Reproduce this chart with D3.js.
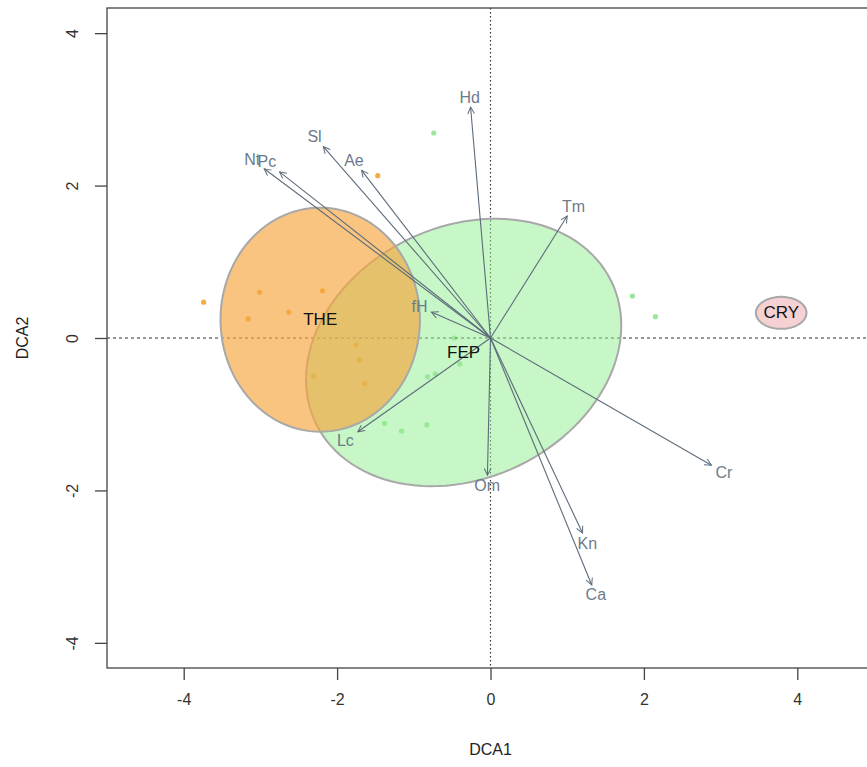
<!DOCTYPE html>
<html>
<head>
<meta charset="utf-8">
<script src="https://cdn.jsdelivr.net/npm/d3@7"></script>
<style>
  body { margin: 0; background: #fff; }
  text { font-family: "Liberation Sans", Arial, sans-serif; }
</style>
</head>
<body>
<div id="chart"></div>
<script>
// DCA ordination: sites, group ellipses and fitted vectors
var xTicks = [-4, -2, 0, 2, 4];
var yTicks = [-4, -2, 0, 2, 4];

var groupNames = ["CRY", "FEP", "THE"];
var ellCx = [3.79, -0.35, -2.22];
var ellCy = [0.33, -0.19, 0.24];
var ellA = [0.33, 2.14, 1.30];
var ellB = [0.21, 1.65, 1.47];
var ellAngle = [0, 26, 0];

var siteX = [-3.74, -3.01, -3.16, -2.63, -2.19, -1.47, -2.31, -1.71, -1.64, -1.75,
             -0.74, 1.85, 2.15, -1.38, -1.16, -0.83, -0.82, -0.72, -0.47, -0.40];
var siteY = [0.47, 0.60, 0.25, 0.34, 0.62, 2.13, -0.50, -0.29, -0.60, -0.09,
             2.69, 0.55, 0.28, -1.12, -1.22, -1.14, -0.51, -0.47, 0.00, -0.34];
var siteGroup = ["THE", "THE", "THE", "THE", "THE", "THE", "THE", "THE", "THE", "THE",
                 "FEP", "FEP", "FEP", "FEP", "FEP", "FEP", "FEP", "FEP", "FEP", "FEP"];

var vecNames = ["Hd", "Sl", "Nt", "Pc", "Ae", "Tm", "fH", "Lc", "Om", "Kn", "Ca", "Cr"];
var vecX = [-0.26, -2.18, -2.95, -2.75, -1.68, 1.00, -0.77, -1.73, -0.04, 1.20, 1.32, 2.88];
var vecY = [3.03, 2.51, 2.22, 2.18, 2.20, 1.60, 0.34, -1.23, -1.80, -2.56, -3.24, -1.67];

var width = 867;
var height = 767;
var plotLeft = 107, plotRight = 874, plotTop = 8, plotBottom = 668;

var fillColor = { CRY: "#f0b8bc", FEP: "#90ee90", THE: "#f6a53c" };
var fillOpacity = { CRY: 0.65, FEP: 0.5, THE: 0.66 };
var pointColor = { CRY: "#f08080", FEP: "#9be69b", THE: "#f2ad45" };

var svg = d3.select("#chart")
    .append("svg")
    .attr("width", width)
    .attr("height", height);

var x = d3.scaleLinear().domain([-5, 5]).range([plotLeft, plotRight]);
var y = d3.scaleLinear().domain([-4.33, 4.33]).range([plotBottom, plotTop]);

var defs = svg.append("defs");
defs.append("clipPath").attr("id", "plotclip")
    .append("rect")
    .attr("x", plotLeft).attr("y", plotTop)
    .attr("width", plotRight - plotLeft).attr("height", plotBottom - plotTop);

defs.append("marker")
    .attr("id", "head")
    .attr("viewBox", "-10 -6 12 12")
    .attr("refX", 0).attr("refY", 0)
    .attr("markerWidth", 10).attr("markerHeight", 10)
    .attr("markerUnits", "userSpaceOnUse")
    .attr("orient", "auto")
    .append("path")
    .attr("d", "M-8,-4L0,0L-8,4")
    .attr("fill", "none")
    .attr("stroke", "#5d6b7b")
    .attr("stroke-width", 1.2);

var plot = svg.append("g").attr("clip-path", "url(#plotclip)");

// sites
plot.selectAll("circle.site")
    .data(siteX)
    .enter()
    .append("circle")
    .attr("class", "site")
    .attr("cx", (d) => x(d))
    .attr("cy", (d, i) => y(siteY[i]))
    .attr("r", 2.6)
    .attr("fill", (d, i) => pointColor[siteGroup[i]]);

// reference lines
plot.append("line")
    .attr("x1", plotLeft).attr("x2", plotRight)
    .attr("y1", y(0)).attr("y2", y(0))
    .attr("stroke", "#333").attr("stroke-width", 1)
    .attr("stroke-dasharray", "3,3");
plot.append("line")
    .attr("x1", x(0)).attr("x2", x(0))
    .attr("y1", plotTop).attr("y2", plotBottom)
    .attr("stroke", "#333").attr("stroke-width", 1.2)
    .attr("stroke-dasharray", "1.5,2.5");

// group ellipses
function ellipsePoints(i) {
    var pts = [];
    var ang = ellAngle[i] * Math.PI / 180;
    for (var k = 0; k < 120; k++) {
        var t = 2 * Math.PI * k / 120;
        var ex = ellA[i] * Math.cos(t), ey = ellB[i] * Math.sin(t);
        pts.push([ellCx[i] + ex * Math.cos(ang) - ey * Math.sin(ang),
                  ellCy[i] + ex * Math.sin(ang) + ey * Math.cos(ang)]);
    }
    return pts;
}
var ellLine = d3.line()
    .x((d) => x(d[0]))
    .y((d) => y(d[1]))
    .curve(d3.curveLinearClosed);

plot.selectAll("path.ell")
    .data(groupNames)
    .enter()
    .append("path")
    .attr("class", "ell")
    .attr("d", (d, i) => ellLine(ellipsePoints(i)))
    .attr("fill", (d) => fillColor[d])
    .attr("fill-opacity", (d) => fillOpacity[d])
    .attr("stroke", "#a8a8a8")
    .attr("stroke-width", 2);

// fitted vectors
plot.selectAll("line.vec")
    .data(vecNames)
    .enter()
    .append("line")
    .attr("class", "vec")
    .attr("x1", x(0)).attr("y1", y(0))
    .attr("x2", (d, i) => x(vecX[i]))
    .attr("y2", (d, i) => y(vecY[i]))
    .attr("stroke", "#5d6b7b")
    .attr("stroke-width", 1.1)
    .attr("marker-end", "url(#head)");

var vecLabels = plot.selectAll("text.vec")
    .data(vecNames)
    .enter()
    .append("text")
    .attr("class", "vec")
    .attr("text-anchor", "middle")
    .attr("dominant-baseline", "central")
    .style("font-size", "16px")
    .attr("fill", "#6c7b8b")
    .text((d) => d);

// place each label just beyond its arrow head
vecLabels.each(function (d, i) {
    var tx = x(vecX[i]), ty = y(vecY[i]);
    var dx = tx - x(0), dy = ty - y(0);
    var len = Math.sqrt(dx * dx + dy * dy);
    var ux = dx / len, uy = dy / len;
    var w = this.getComputedTextLength();
    var hw = w / 2 + 4, hh = 10;
    var t = Math.min(Math.abs(ux) > 1e-6 ? hw / Math.abs(ux) : 1e9,
                     Math.abs(uy) > 1e-6 ? hh / Math.abs(uy) : 1e9);
    d3.select(this).attr("x", tx + ux * t).attr("y", ty + uy * t);
});

// group labels
plot.selectAll("text.grp")
    .data(groupNames)
    .enter()
    .append("text")
    .attr("class", "grp")
    .attr("x", (d, i) => x(ellCx[i]))
    .attr("y", (d, i) => y(ellCy[i]))
    .attr("text-anchor", "middle")
    .attr("dominant-baseline", "central")
    .style("font-size", "17px")
    .attr("fill", "#111")
    .text((d) => d);

// frame and axes
svg.append("rect")
    .attr("x", plotLeft).attr("y", plotTop)
    .attr("width", plotRight - plotLeft).attr("height", plotBottom - plotTop)
    .attr("fill", "none")
    .attr("stroke", "#444")
    .attr("stroke-width", 1.3);

var xaxis = d3.axisBottom(x).tickValues(xTicks).tickFormat((d) => String(d))
    .tickSize(12).tickSizeOuter(0).tickPadding(14);
var gx = svg.append("g")
    .attr("transform", "translate(0," + plotBottom + ")")
    .call(xaxis);
gx.select(".domain").remove();
gx.selectAll("line").attr("stroke", "#444").attr("stroke-width", 1.3);
gx.selectAll("text").style("font-size", "16px").attr("fill", "#333")
    .attr("font-family", "Liberation Sans, Arial, sans-serif");

var yaxis = d3.axisLeft(y).tickValues(yTicks).tickFormat((d) => String(d))
    .tickSize(12).tickSizeOuter(0);
var gy = svg.append("g")
    .attr("transform", "translate(" + plotLeft + ",0)")
    .call(yaxis);
gy.select(".domain").remove();
gy.selectAll("line").attr("stroke", "#444").attr("stroke-width", 1.3);
gy.selectAll("text")
    .style("font-size", "16px").attr("fill", "#333")
    .attr("font-family", "Liberation Sans, Arial, sans-serif")
    .attr("x", 0).attr("dy", null)
    .attr("text-anchor", "middle")
    .attr("dominant-baseline", "central")
    .attr("transform", "translate(-35,0) rotate(-90)");

svg.append("text")
    .attr("x", x(0))
    .attr("y", 749)
    .attr("text-anchor", "middle")
    .attr("dominant-baseline", "central")
    .style("font-size", "16px")
    .attr("fill", "#222")
    .text("DCA1");

svg.append("text")
    .attr("transform", "translate(22," + y(0) + ") rotate(-90)")
    .attr("text-anchor", "middle")
    .attr("dominant-baseline", "central")
    .style("font-size", "16px")
    .attr("fill", "#222")
    .text("DCA2");
</script>
</body>
</html>
